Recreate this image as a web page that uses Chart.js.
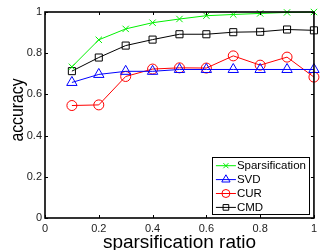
<!DOCTYPE html>
<html>
<head>
<meta charset="utf-8">
<script src="https://cdn.jsdelivr.net/npm/chart.js@4.4.0/dist/chart.umd.min.js"></script>
<style>
  html, body { margin: 0; padding: 0; background: #fff; }
  canvas { display: block; }
</style>
</head>
<body>
<canvas id="accChart" width="321" height="250"></canvas>
<script>
// ratios on the x axis
const ratios = [0.1, 0.2, 0.3, 0.4, 0.5, 0.6, 0.7, 0.8, 0.9, 1.0];

// accuracy per method
const sparsification = [0.734, 0.865, 0.918, 0.948, 0.966, 0.982, 0.988, 0.993, 0.998, 1.0];
const svd = [0.658, 0.697, 0.712, 0.712, 0.721, 0.721, 0.721, 0.721, 0.721, 0.721];
const cur = [0.546, 0.549, 0.687, 0.723, 0.729, 0.728, 0.787, 0.742, 0.781, 0.684];
const cmd = [0.713, 0.779, 0.837, 0.866, 0.892, 0.892, 0.902, 0.904, 0.915, 0.911];

const tickValues = [0, 0.2, 0.4, 0.6, 0.8, 1];
const xTitle = 'sparsification ratio';
const yTitle = 'accuracy';

const FONT = "'Liberation Sans', Arial, Helvetica, sans-serif";

function toPoints(ys) {
    return ratios.map((x, i) => ({ x: x, y: ys[i] }));
}

function makeSet(label, values, color, style, radius) {
    return {
        label: label,
        data: toPoints(values),
        showLine: true,
        borderColor: color,
        backgroundColor: color,
        borderWidth: 1,
        pointStyle: style,
        pointRadius: radius,
        pointBorderWidth: 1,
        pointBorderColor: color,
        pointBackgroundColor: 'rgba(0,0,0,0)',
        tension: 0,
        clip: false,
    };
}

// "0", "0.2", ... "1"
function tickText(v) {
    return String(Number(v.toFixed(1)));
}

/* ======= axes box, inward ticks, titles, legend ======= */
const matlabAxes = {
    id: 'matlabAxes',
    afterDraw(chart) {
        const ctx = chart.ctx;
        const a = chart.chartArea;
        const xs = chart.scales.x;
        const ys = chart.scales.y;
        const tl = 3;

        ctx.save();
        ctx.strokeStyle = '#000';
        ctx.lineWidth = 1;
        tickValues.forEach(v => {
            const px = Math.round(xs.getPixelForValue(v)) + 0.5;
            const py = Math.round(ys.getPixelForValue(v)) + 0.5;
            ctx.beginPath();
            ctx.moveTo(px, a.bottom); ctx.lineTo(px, a.bottom - tl);
            ctx.moveTo(px, a.top); ctx.lineTo(px, a.top + tl);
            ctx.moveTo(a.left, py); ctx.lineTo(a.left + tl, py);
            ctx.moveTo(a.right, py); ctx.lineTo(a.right - tl, py);
            ctx.stroke();
        });
        ctx.lineWidth = 1.6;
        ctx.strokeRect(a.left, a.top, a.right - a.left, a.bottom - a.top);

        // axis titles
        ctx.fillStyle = '#000';
        ctx.font = '19px ' + FONT;
        ctx.textAlign = 'center';
        ctx.textBaseline = 'alphabetic';
        ctx.fillText(xTitle, (a.left + a.right) / 2, 248);

        ctx.translate(23, 110);
        ctx.rotate(-Math.PI / 2);
        ctx.scale(0.83, 1);
        ctx.fillText(yTitle, 0, 0);
        ctx.restore();

        // legend in the lower right corner
        const sets = chart.data.datasets;
        ctx.save();
        ctx.font = '11.5px ' + FONT;
        let tw = 0;
        sets.forEach(d => { tw = Math.max(tw, ctx.measureText(d.label).width); });
        const w = 25 + tw + 3;
        const h = 57;
        const right = a.right - 5;
        const bottom = a.bottom - 4;
        const left = right - w;
        const top = bottom - h;
        ctx.fillStyle = '#fff';
        ctx.fillRect(left, top, w, h);
        ctx.strokeStyle = '#000';
        ctx.lineWidth = 1;
        ctx.strokeRect(Math.round(left) + 0.5, Math.round(top) + 0.5, Math.round(w), Math.round(h));

        sets.forEach((d, i) => {
            const cy = top + 8.7 + i * 13.9;
            ctx.strokeStyle = d.borderColor;
            ctx.fillStyle = 'rgba(0,0,0,0)';
            ctx.lineWidth = 1;
            ctx.beginPath();
            ctx.moveTo(left + 4, cy);
            ctx.lineTo(left + 24, cy);
            ctx.stroke();
            Chart.helpers.drawPoint(ctx, {
                pointStyle: d.pointStyle,
                radius: d.pointRadius * 0.8,
                borderWidth: 1,
                rotation: 0,
            }, left + 14, cy);
            ctx.fillStyle = '#000';
            ctx.textAlign = 'left';
            ctx.textBaseline = 'middle';
            ctx.fillText(d.label, left + 25, cy + 0.5);
        });
        ctx.restore();
    }
};

const chart = new Chart(document.getElementById('accChart'), {
    type: 'scatter',
    data: {
        datasets: [
            makeSet('Sparsification', sparsification, '#00f000', 'crossRot', 4.5),
            makeSet('SVD', svd, '#0000ff', 'triangle', 6),
            makeSet('CUR', cur, '#ff0000', 'circle', 5),
            makeSet('CMD', cmd, '#000000', 'rect', 5),
        ],
    },
    options: {
        responsive: false,
        animation: false,
        devicePixelRatio: 1,
        layout: {
            padding: { left: 0, right: 4, top: 12, bottom: 0 },
        },
        plugins: {
            legend: { display: false },
            tooltip: { enabled: false },
        },
        scales: {
            x: {
                type: 'linear',
                min: 0,
                max: 1,
                grid: { display: false, drawTicks: false },
                border: { display: false },
                afterFit(scale) { scale.height = 32; },
                afterBuildTicks(scale) { scale.ticks = tickValues.map(v => ({ value: v })); },
                ticks: {
                    font: { family: FONT, size: 11 },
                    color: '#222',
                    padding: 4,
                    maxRotation: 0,
                    autoSkip: false,
                    callback: tickText,
                },
            },
            y: {
                type: 'linear',
                min: 0,
                max: 1,
                grid: { display: false, drawTicks: false },
                border: { display: false },
                afterFit(scale) { scale.width = 45; },
                afterBuildTicks(scale) { scale.ticks = tickValues.map(v => ({ value: v })); },
                ticks: {
                    font: { family: FONT, size: 11 },
                    color: '#222',
                    padding: 3,
                    autoSkip: false,
                    callback: tickText,
                },
            },
        },
    },
    plugins: [matlabAxes],
});
</script>
</body>
</html>
